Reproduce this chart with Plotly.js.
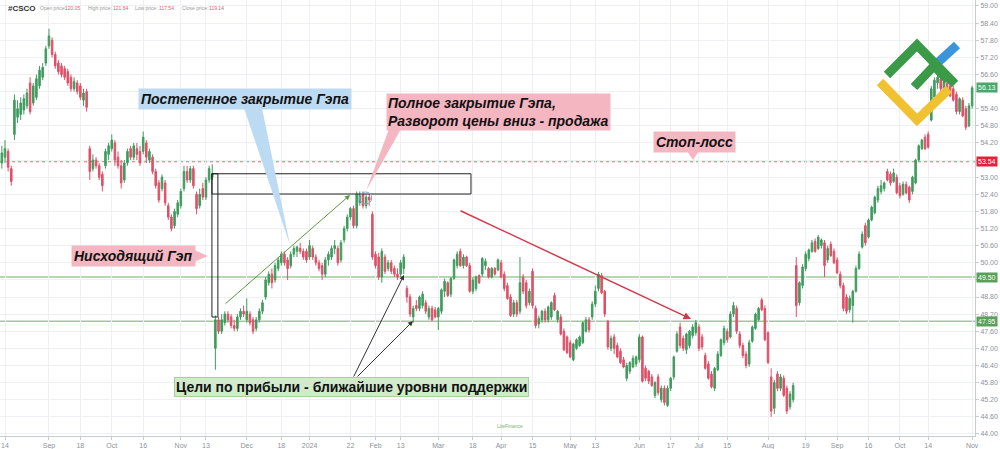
<!DOCTYPE html>
<html>
<head>
<meta charset="utf-8">
<script src="https://cdn.plot.ly/plotly-3.0.1.min.js"></script>
<style>html,body{margin:0;padding:0;background:#fff;}#chart{width:1000px;height:449px;}</style>
</head>
<body>
<div id="chart"></div>
<script>
// ---- data (trading-day index: -1 = 11 Aug 2023 ... 308 = 1 Nov 2024) ----
const firstIndex = -1;
const openPrices = [
53.5,53.7,53.9,53.3,54.5,55.1,55.2,55.35,55.5,56.3,
55.6,55.8,56.2,56.5,57.0,57.6,57.8,57.3,57.0,56.9,
56.8,56.7,56.5,56.1,56.3,56.2,55.7,56.0,54.0,53.3,
53.6,53.4,53.1,53.4,53.8,54.0,54.2,53.7,53.4,52.9,
53.5,54.0,53.7,54.0,53.9,53.9,54.2,53.6,53.7,53.2,
52.8,52.6,52.8,52.0,51.6,51.3,51.7,52.0,52.6,53.2,
52.9,53.3,52.4,52.0,52.6,52.3,52.9,53.0,47.0,48.0,
47.6,47.9,48.2,48.1,47.8,47.7,48.1,48.3,48.0,48.2,
48.0,47.7,48.0,48.3,48.8,49.3,49.6,49.4,49.8,50.0,
50.3,50.1,49.9,50.3,50.4,50.5,50.4,50.4,50.2,50.5,
50.2,50.0,49.9,49.6,50.1,50.2,50.5,50.5,50.1,50.8,
51.2,51.6,51.9,51.3,52.1,52.4,52.0,52.3,51.7,50.3,
50.2,49.5,50.2,49.8,50.0,49.8,49.6,49.6,49.8,49.1,
48.8,48.1,48.5,48.4,48.5,48.6,48.1,48.4,48.35,48.1,
48.3,49.0,49.3,48.9,49.45,49.9,50.4,49.9,50.2,49.9,
49.0,49.1,49.55,49.6,49.9,49.8,49.5,49.8,49.75,50.0,
49.6,49.2,48.8,48.2,48.6,48.3,49.5,49.3,48.6,49.7,
48.4,47.85,48.0,48.3,48.0,48.1,48.85,48.0,48.1,47.6,
47.4,47.2,46.6,47.0,47.1,47.2,47.6,48.0,48.1,48.55,
49.1,49.55,49.0,47.95,47.0,47.4,47.1,46.9,46.6,45.95,
46.2,46.35,46.45,46.6,47.4,46.3,46.2,46.0,45.35,46.0,
45.2,45.6,45.0,45.6,46.0,46.9,47.75,47.35,46.95,47.1,
47.45,47.55,47.75,47.4,46.75,46.45,46.1,45.6,46.25,46.75,
47.2,47.6,47.4,48.2,48.4,47.5,47.1,46.8,46.45,47.25,
47.7,48.0,48.7,48.4,47.55,46.0,44.9,46.1,45.6,45.95,
45.6,44.95,45.2,49.9,48.6,49.2,49.8,50.15,50.4,50.75,
50.5,50.6,50.7,50.1,50.65,50.4,50.1,49.6,49.2,48.8,
48.35,48.5,49.0,49.8,50.55,51.3,50.9,51.5,51.75,52.2,
52.5,52.6,53.2,53.1,52.85,53.0,52.7,52.4,52.75,52.65,
52.5,52.8,53.6,54.0,54.4,54.5,55.0,55.8,56.3,56.45,
56.1,56.3,56.2,56.1,55.9,55.3,55.7,55.4,54.8,55.5];
const highPrices = [
54.1,54.3,54.0,53.4,55.9,55.7,55.8,55.9,56.1,56.5,
56.3,56.6,56.9,57.0,57.6,58.2,57.9,57.4,57.1,57.0,
56.9,56.8,56.6,56.5,56.4,56.3,56.1,56.1,54.1,53.8,
53.7,53.5,53.2,54.0,54.2,54.5,54.3,53.9,53.6,53.6,
54.0,54.1,54.2,54.2,54.1,54.6,54.3,54.0,53.8,53.3,
52.9,53.1,52.9,52.1,51.7,51.9,52.2,52.6,53.4,53.4,
53.4,53.4,52.5,52.6,52.8,53.0,53.4,53.45,48.15,48.1,
48.2,48.3,48.3,48.2,48.0,48.2,48.4,48.5,48.75,48.3,
48.1,48.1,48.4,48.7,49.5,49.7,49.8,50.0,50.2,50.4,
50.4,50.2,50.4,50.6,50.6,50.7,50.5,50.5,50.8,50.6,
50.3,50.1,50.0,50.2,50.4,50.6,50.8,50.6,50.8,51.3,
51.7,51.95,52.0,52.5,52.5,52.5,52.4,52.45,51.8,50.4,
50.35,50.5,50.3,50.1,50.1,49.9,49.8,50.1,50.3,49.2,
48.9,48.5,48.7,48.85,49.0,48.7,48.5,48.5,48.45,48.45,
49.1,49.45,49.35,49.5,50.15,50.4,50.5,50.3,50.25,50.0,
49.5,49.55,49.6,50.2,50.15,49.85,49.85,49.85,50.15,50.1,
49.7,49.3,48.9,48.7,48.7,50.2,49.6,49.4,49.1,49.8,
48.5,48.15,48.35,48.4,48.5,48.65,48.95,48.35,48.2,47.7,
47.45,47.3,47.2,47.35,47.45,47.95,48.1,48.1,48.65,49.2,
49.68,49.65,49.05,48.0,47.45,47.5,47.2,47.0,46.7,46.5,
46.55,46.75,46.75,47.5,47.45,46.4,46.25,46.1,45.85,46.1,
45.7,45.7,45.7,46.0,46.75,47.6,47.9,47.45,47.55,47.65,
47.85,48.0,47.85,47.5,46.85,46.55,46.2,46.35,46.9,47.35,
47.8,47.7,48.3,48.63,48.5,47.6,47.2,46.9,47.3,47.8,
48.25,48.45,48.77,48.5,47.6,46.3,45.9,46.2,46.1,46.05,
45.7,45.5,45.8,50.2,49.35,49.95,50.4,50.5,50.8,50.85,
50.97,50.85,50.8,50.6,50.75,50.5,50.2,49.7,49.3,48.9,
48.85,49.05,49.9,50.4,51.1,51.4,51.55,52.0,52.35,52.7,
52.9,52.85,53.3,53.2,53.3,53.1,52.8,52.85,52.85,52.7,
53.05,53.65,54.15,54.35,54.5,54.6,56.2,56.5,56.6,56.55,
56.45,56.4,56.3,56.2,56.0,55.8,55.8,55.5,55.6,56.2];
const lowPrices = [
53.3,53.5,53.2,52.7,54.3,54.9,55.0,55.2,55.4,55.2,
55.5,55.7,56.1,56.4,56.9,57.5,57.2,56.8,56.6,56.5,
56.4,56.2,56.0,56.0,55.9,55.7,55.5,55.3,52.9,53.2,
53.3,52.9,52.5,53.3,53.6,53.9,53.4,53.3,52.6,52.8,
53.4,53.6,53.6,53.6,53.4,53.8,53.5,53.5,53.1,52.6,
52.1,52.5,52.0,51.5,51.1,51.2,51.6,51.9,52.5,52.8,
52.8,52.6,51.7,51.9,52.2,52.2,52.8,52.9,46.25,47.5,
47.5,47.8,47.9,47.7,47.6,47.6,48.0,48.1,47.9,47.8,
47.5,47.6,47.9,48.2,48.7,49.2,49.1,49.3,49.7,49.9,
49.9,49.4,49.8,50.2,50.2,50.3,50.1,50.0,50.1,50.1,
49.9,49.7,49.4,49.5,49.9,50.1,50.3,49.9,50.0,50.7,
51.1,51.5,51.2,51.2,52.0,51.9,51.9,52.0,50.1,49.8,
49.4,49.3,49.6,49.7,49.6,49.5,49.4,49.5,49.6,48.6,
48.1,47.9,48.3,48.3,48.4,48.2,48.0,47.95,48.05,47.64,
48.2,48.8,48.8,48.8,49.4,49.8,49.85,49.8,49.85,48.95,
48.9,49.0,49.25,49.5,49.75,49.45,49.45,49.55,49.7,49.45,
49.0,48.7,48.1,48.1,48.1,48.2,48.9,48.4,48.5,48.4,
47.7,47.7,47.9,47.9,47.9,48.0,48.3,47.9,47.45,46.9,
46.8,46.65,46.55,46.95,47.05,47.15,47.55,47.55,48.0,48.45,
49.0,48.9,48.1,46.95,46.9,46.8,46.65,46.45,46.3,45.85,
46.1,46.3,46.35,46.5,45.8,45.85,45.75,45.65,45.25,45.35,
45.1,45.0,44.95,45.5,45.9,46.85,47.0,46.9,46.8,47.0,
47.35,47.45,46.9,46.95,46.25,45.9,45.6,45.5,46.2,46.7,
47.1,47.2,47.35,48.1,47.5,47.0,46.65,46.3,46.35,47.2,
47.65,47.95,48.3,47.25,46.45,44.6,44.7,45.5,45.5,45.3,
44.7,44.85,45.1,48.1,48.5,49.1,49.7,50.05,50.35,50.35,
50.45,50.5,49.5,50.0,50.2,49.95,49.6,49.1,48.3,48.2,
48.25,47.9,48.95,49.75,50.5,50.6,50.85,51.45,51.7,52.1,
52.4,52.5,52.85,52.7,52.8,52.4,52.25,52.35,52.4,52.1,
52.4,52.75,53.55,53.95,53.95,54.0,54.95,55.7,56.1,56.0,
56.0,55.9,55.8,55.65,55.2,55.2,55.1,54.65,54.75,55.4];
const closePrices = [
53.85,54.0,53.35,52.85,55.7,55.4,55.6,55.75,55.95,55.3,
56.2,56.45,56.75,56.85,57.5,57.95,57.3,56.9,56.7,56.6,
56.5,56.3,56.1,56.35,56.0,55.8,55.95,55.45,53.2,53.6,
53.4,53.0,52.7,53.9,54.1,54.3,53.6,53.4,52.8,53.5,
53.9,53.7,54.1,53.8,53.5,54.4,53.7,53.9,53.2,52.7,
52.2,53.0,52.1,51.6,51.2,51.8,52.1,52.5,53.2,52.9,
53.3,52.7,51.9,52.4,52.3,52.9,53.3,53.12,48.0,47.6,
48.0,48.2,48.0,47.8,47.7,48.1,48.3,48.2,48.3,47.9,
47.6,48.0,48.3,48.6,49.4,49.6,49.3,49.9,50.1,50.3,
50.0,49.8,50.3,50.5,50.55,50.4,50.2,50.1,50.6,50.2,
50.0,49.8,49.6,50.1,50.3,50.5,50.6,50.0,50.7,51.2,
51.6,51.9,51.3,52.4,52.4,52.0,52.3,52.2,50.2,49.9,
49.5,50.4,49.7,50.0,49.7,49.6,49.5,50.0,50.2,48.8,
48.2,48.4,48.4,48.8,48.9,48.3,48.4,48.0,48.1,48.4,
49.05,49.35,48.85,49.45,50.1,50.3,49.9,50.2,49.9,49.0,
49.4,49.5,49.3,50.15,50.05,49.5,49.8,49.6,50.1,49.5,
49.1,48.75,48.15,48.6,48.2,49.3,49.0,48.5,49.0,48.5,
47.8,48.05,48.3,48.0,48.45,48.6,48.35,48.3,47.5,46.95,
46.85,46.7,47.15,47.3,47.4,47.9,48.0,47.65,48.55,49.0,
49.6,48.95,48.2,47.05,47.35,47.0,46.7,46.5,46.35,46.4,
46.5,46.65,46.7,47.4,45.85,45.95,45.85,45.7,45.8,45.45,
45.6,45.1,45.6,45.95,46.7,47.5,47.1,47.0,47.5,47.6,
47.75,47.9,47.0,47.05,46.3,45.95,45.65,46.3,46.8,47.3,
47.7,47.3,48.2,48.5,47.6,47.1,46.75,46.4,47.2,47.75,
48.2,48.4,48.35,47.3,46.5,44.8,45.8,45.6,46.0,45.35,
44.8,45.4,45.7,48.5,49.3,49.85,50.3,50.45,50.7,50.4,
50.9,50.8,49.9,50.5,50.25,50.0,49.65,49.2,48.4,48.3,
48.75,49.0,49.8,50.3,51.0,50.7,51.5,51.95,52.3,52.6,
52.7,52.8,52.9,52.8,53.15,52.45,52.35,52.75,52.45,52.2,
53.0,53.6,54.1,54.3,54.0,54.05,56.1,56.4,56.5,56.1,
56.35,55.95,55.85,55.7,55.3,55.75,55.15,54.75,55.5,56.13];

const tickIndex = [0,14,24,34,44,56,64,77,88,97,110,118,126,138,149,158,168,180,188,202,212,221,230,243,255,265,275,285,294,308];
const tickLabels = ['14','Sep','18','Oct','16','Nov','13','Dec','18','2024','22','Feb','13','Mar','18','Apr','15','May','13','Jun','17','Jul','15','Aug','19','Sep','16','Oct','14','Nov'];
const priceTicks = [44.00,44.60,45.20,45.80,46.40,47.00,47.60,48.20,48.80,49.40,50.00,50.60,51.20,51.80,52.40,53.00,53.60,54.20,54.80,55.40,56.00,56.60,57.20,57.80,58.40,59.00];
const hiddenPriceTicks = [49.40, 53.60, 56.00]; // covered by the price tags in the reference

const supportLevels = [49.50, 47.95];
const stopLoss = 53.54;
const lastPrice = 56.13;
const gapUpper = 53.12, gapLower = 48.10, gapFillLower = 52.41;
const gapStartIdx = 65.9, gapNarrowEndIdx = 67.8, gapEndIdx = 148.4;
const headerLabels = ['Open price:', 'High price:', 'Low price:', 'Close price:'];
const headerValues = ['120.05', '121.64', '117.54', '119.14'];

// ---- layout helpers ----
const PW = 975, PH = 436;
const X = px => px / PW;            // pixel -> paper
const Y = py => 1 - py / PH;
const DX = px => (px - 5) / 3.14;   // pixel -> index
const DY = py => 59.21 - py / 28.53;// pixel -> price

const G = '#3f9c5d', R = '#df5068';
const xs = openPrices.map((_, i) => i + firstIndex);

const trace = {
  type: 'candlestick', x: xs,
  open: openPrices, high: highPrices, low: lowPrices, close: closePrices,
  increasing: {line: {color: G, width: 1}, fillcolor: G},
  decreasing: {line: {color: R, width: 1}, fillcolor: R},
  whiskerwidth: 0, hoverinfo: 'skip', showlegend: false
};

const FONT = 'Liberation Sans, Arial, sans-serif';
const shapes = [];
supportLevels.forEach(v => shapes.push({type:'line', xref:'paper', x0:0, x1:1, yref:'y', y0:v, y1:v, line:{color:'#9ccb98', width:1.5}, layer:'below'}));
shapes.push({type:'line', xref:'paper', x0:0, x1:1, yref:'y', y0:stopLoss, y1:stopLoss, line:{color:'#e46a6a', width:1, dash:'3px,3px'}, layer:'below'});
shapes.push({type:'rect', xref:'x', yref:'y', x0:gapStartIdx, x1:gapEndIdx, y0:gapFillLower, y1:gapUpper, line:{color:'#222', width:1}, fillcolor:'rgba(0,0,0,0)'});
shapes.push({type:'rect', xref:'x', yref:'y', x0:gapStartIdx, x1:gapNarrowEndIdx, y0:gapLower, y1:gapUpper, line:{color:'#222', width:1}, fillcolor:'rgba(0,0,0,0)'});
shapes.push({type:'circle', xref:'x', yref:'y', x0:DX(359.7), x1:DX(371.7), y0:DY(204), y1:DY(192), line:{color:'#7fa9d6', width:1}});
const tri = (a,b,c,col) => shapes.push({type:'path', xref:'paper', yref:'paper', path:`M ${X(a[0])},${Y(a[1])} L ${X(b[0])},${Y(b[1])} L ${X(c[0])},${Y(c[1])} Z`, fillcolor:col, line:{width:0}});
const BLUE = '#bcdaf2', PINK = '#f4b7c2', GREENBOX = '#d2eacc';
tri([244,108],[262,108],[290,245], BLUE);
tri([389,129],[401,129],[366,191], PINK);
tri([194,250],[194,262],[208,256], PINK);
tri([687,151],[699,151],[693,160], PINK);
const seg = (pts,col,w) => shapes.push({type:'path', xref:'paper', yref:'paper', path: pts.map((p,i)=>(i?'L ':'M ')+X(p[0])+','+Y(p[1])).join(' '), line:{color:col, width:w}, fillcolor:'rgba(0,0,0,0)'});
seg([[934,66],[957,45]], '#3b95dc', 9);
seg([[880,82],[917,120],[949,89]], '#f0c232', 9);
seg([[887,75],[917,45],[955,84]], '#3a9a47', 9);
seg([[914,87],[934,66],[948,80]], '#3a9a47', 9);

const ann = [];
const box = (px, py, text, bg, opts={}) => ann.push(Object.assign({xref:'paper', yref:'paper', x:X(px), y:Y(py), text, showarrow:false, bgcolor:bg, borderpad:2, font:{family:FONT, size:14, color:'#111'}, xanchor:'center', yanchor:'middle'}, opts));
box(245, 99, '<b><i>Постепенное закрытие Гэпа</i></b>', BLUE);
box(498, 112, '<b><i>Полное закрытие Гэпа,<br>Разворот цены вниз - продажа</i></b>', PINK, {align:'left', borderpad:1});
box(694, 142, '<b><i>Стоп-лосс</i></b>', PINK);
box(133, 256, '<b><i>Нисходящий Гэп</i></b>', PINK);
box(351, 386.5, '<b>Цели по прибыли - ближайшие уровни поддержки</b>', GREENBOX, {bordercolor:'#a8cf9f', borderwidth:1, borderpad:1});

const arrow = (x0,y0,x1,y1,col,w) => ann.push({xref:'x', yref:'y', axref:'x', ayref:'y', x:DX(x1), y:DY(y1), ax:DX(x0), ay:DY(y0), text:'', showarrow:true, arrowhead:2, arrowsize:1, arrowwidth:w, arrowcolor:col, standoff:0});
arrow(224,305,350,195,'#5a9a3c',1);
arrow(459,210,691,319,'#d23a4c',1.5);
arrow(353,378,404,275,'#333',1);
arrow(356,378,413,321,'#333',1);

const plabel = (v, col) => ann.push({xref:'paper', yref:'y', x:1, y:v, xanchor:'left', yanchor:'middle', xshift:1, text:v.toFixed(2), showarrow:false, bgcolor:col, borderpad:1, font:{family:FONT, size:7, color:'#fff'}});
plabel(lastPrice, '#46a86a');
plabel(stopLoss, '#e3213a');
supportLevels.forEach(v => plabel(v, '#5aa05a'));

const htxt = (px, text, col, size, bold) => ann.push({xref:'paper', yref:'paper', x:X(px), y:Y(8), xanchor:'left', yanchor:'middle', text: bold?('<b>'+text+'</b>'):text, showarrow:false, font:{family:FONT, size, color:col}});
htxt(6, '#CSCO', '#333', 8, true);
const labelPos = [38, 86, 133, 180], valuePos = [63, 111, 157, 207];
headerLabels.forEach((t,i) => { htxt(labelPos[i], t, '#9a9a9a', 5); htxt(valuePos[i], headerValues[i], '#e06070', 5); });
ann.push({xref:'paper', yref:'paper', x:X(510), y:Y(431), text:'LiteFinance', showarrow:false, font:{family:FONT, size:5, color:'#7db36c'}});

const layout = {
  width: 1000, height: 449,
  margin: {l:0, r:25, t:0, b:13, pad:0},
  paper_bgcolor: '#ffffff', plot_bgcolor: '#ffffff',
  showlegend: false,
  xaxis: {range:[DX(0), DX(975)], tickmode:'array', tickvals:tickIndex, ticktext:tickLabels, showgrid:true, gridcolor:'#eef0f3', gridwidth:1,
          tickfont:{family:FONT, size:7, color:'#8d929a'}, ticks:'outside', ticklen:3, tickcolor:'#c9ccd1', showline:true, linecolor:'#c9ccd1',
          zeroline:false, rangeslider:{visible:false}, fixedrange:true},
  yaxis: {side:'right', range:[DY(436), DY(0)], tickmode:'array', tickvals:priceTicks,
          ticktext:priceTicks.map(v => hiddenPriceTicks.some(h => Math.abs(h-v) < 1e-6) ? '' : v.toFixed(2)),
          showgrid:true, gridcolor:'#eef0f3', gridwidth:1,
          tickfont:{family:FONT, size:7, color:'#8d929a'}, ticks:'outside', ticklen:3, tickcolor:'#c9ccd1', showline:true, linecolor:'#c9ccd1',
          zeroline:false, fixedrange:true},
  shapes, annotations: ann
};
Plotly.newPlot('chart', [trace], layout, {displayModeBar:false, staticPlot:true});
</script>
</body>
</html>
